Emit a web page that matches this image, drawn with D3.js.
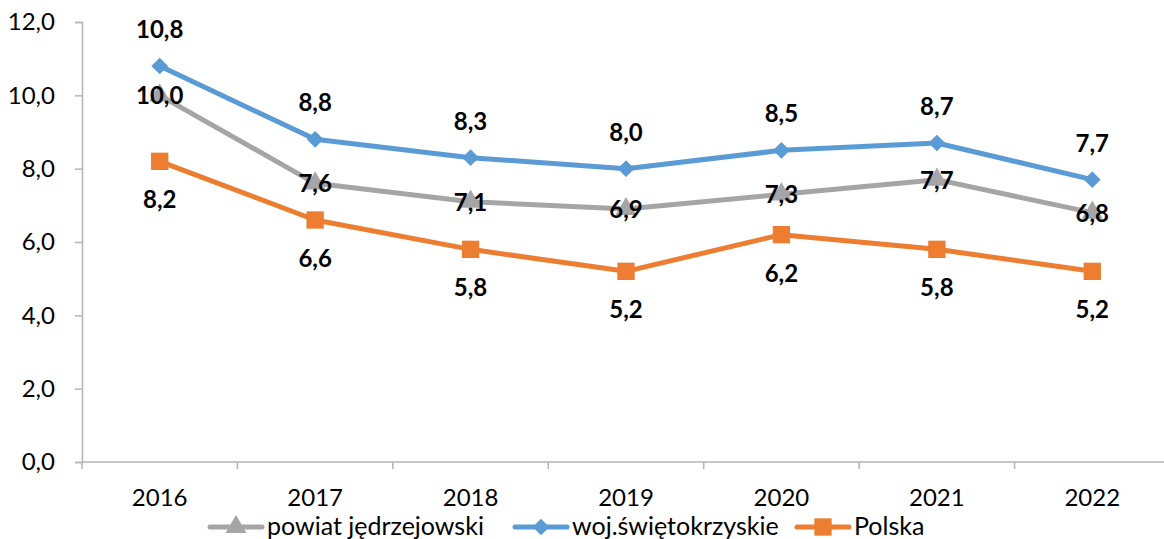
<!DOCTYPE html>
<html>
<head>
<meta charset="utf-8">
<script src="https://cdn.jsdelivr.net/npm/d3@7"></script>
<style>
  body { margin: 0; background: #fff; }
  svg { display: block; font-family: Lato, "Open Sans", sans-serif; }
</style>
</head>
<body>
<div class="main"></div>
<script>
// Data
let years = ["2016", "2017", "2018", "2019", "2020", "2021", "2022"];
let powiat = [10.0, 7.6, 7.1, 6.9, 7.3, 7.7, 6.8];
let woj = [10.8, 8.8, 8.3, 8.0, 8.5, 8.7, 7.7];
let polska = [8.2, 6.6, 5.8, 5.2, 6.2, 5.8, 5.2];
let yTicks = [0, 2, 4, 6, 8, 10, 12];

let width = 1164, height = 539;
let svg = d3.select("div.main").append("svg")
    .attr("width", width)
    .attr("height", height);

let x = d3.scaleBand().domain(years).range([82, 1170]);
let y = d3.scaleLinear().domain([0, 12]).range([462, 22]);
let fmt = v => v.toFixed(1).replace(".", ",");
let axisColor = "#b4b4b4";

// y axis
let yAxis = svg.append("g")
    .attr("transform", "translate(82,0)")
    .call(d3.axisLeft(y).tickValues(yTicks).tickFormat(fmt).tickSize(7).tickPadding(20));
yAxis.select(".domain").attr("stroke", axisColor).attr("stroke-width", 1.5);
yAxis.selectAll(".tick line").attr("stroke", axisColor).attr("stroke-width", 1.5);
yAxis.selectAll("text").attr("font-size", 24).attr("fill", "#000").attr("font-family", "Lato, sans-serif");

// x axis
let xg = svg.append("g").attr("transform", "translate(0,462)");
xg.append("line").attr("x1", 82).attr("x2", width).attr("stroke", axisColor).attr("stroke-width", 1.5);
years.forEach(function(yr) {
    xg.append("line")
        .attr("x1", x(yr)).attr("x2", x(yr))
        .attr("y1", 0).attr("y2", 7)
        .attr("stroke", axisColor).attr("stroke-width", 1.5);
    xg.append("text")
        .attr("x", x(yr) + x.bandwidth() / 2)
        .attr("y", 44)
        .attr("text-anchor", "middle")
        .attr("font-size", 24)
        .text(yr);
});

let cx = yr => x(yr) + x.bandwidth() / 2;

// diamond = square turned 45 degrees
let series = [
    { name: "powiat jędrzejowski", values: powiat, color: "#a5a5a5", marker: d3.symbolTriangle, size: 190, rot: 0, dy: 9 },
    { name: "woj.świętokrzyskie", values: woj, color: "#5b9bd5", marker: d3.symbolSquare, size: 140, rot: 45, dy: -28 },
    { name: "Polska", values: polska, color: "#ed7d31", marker: d3.symbolSquare, size: 300, rot: 0, dy: 47 }
];

let line = d3.line().x((d, i) => cx(years[i])).y(d => y(d));

series.forEach(function(s) {
    let g = svg.append("g");
    g.append("path")
        .datum(s.values)
        .attr("d", line)
        .attr("fill", "none")
        .attr("stroke", s.color)
        .attr("stroke-width", 5)
        .attr("stroke-linejoin", "round");
    g.selectAll("path.m")
        .data(s.values)
        .enter().append("path")
        .attr("class", "m")
        .attr("d", d3.symbol().type(s.marker).size(s.size))
        .attr("transform", (d, i) => "translate(" + cx(years[i]) + "," + y(d) + ") rotate(" + s.rot + ")")
        .attr("fill", s.color);
});

// data labels on top
series.forEach(function(s) {
    svg.append("g").selectAll("text")
        .data(s.values)
        .enter().append("text")
        .attr("x", (d, i) => cx(years[i]))
        .attr("y", d => y(d) + s.dy)
        .attr("text-anchor", "middle")
        .attr("font-size", 24)
        .attr("font-weight", "bold")
        .text(fmt);
});

// legend
let legend = svg.append("g").attr("transform", "translate(0,527)");
let legendX = [210, 515, 797];
series.forEach(function(s, i) {
    let lg = legend.append("g").attr("transform", "translate(" + legendX[i] + ",0)");
    lg.append("line").attr("x1", 0).attr("x2", 52)
        .attr("stroke", s.color).attr("stroke-width", 5).attr("stroke-linecap", "round");
    lg.append("path")
        .attr("d", d3.symbol().type(s.marker).size(s.size))
        .attr("transform", "translate(26,0) rotate(" + s.rot + ")")
        .attr("fill", s.color);
    lg.append("text")
        .attr("x", 57).attr("y", 8)
        .attr("font-size", 25)
        .text(s.name);
});
</script>
</body>
</html>
